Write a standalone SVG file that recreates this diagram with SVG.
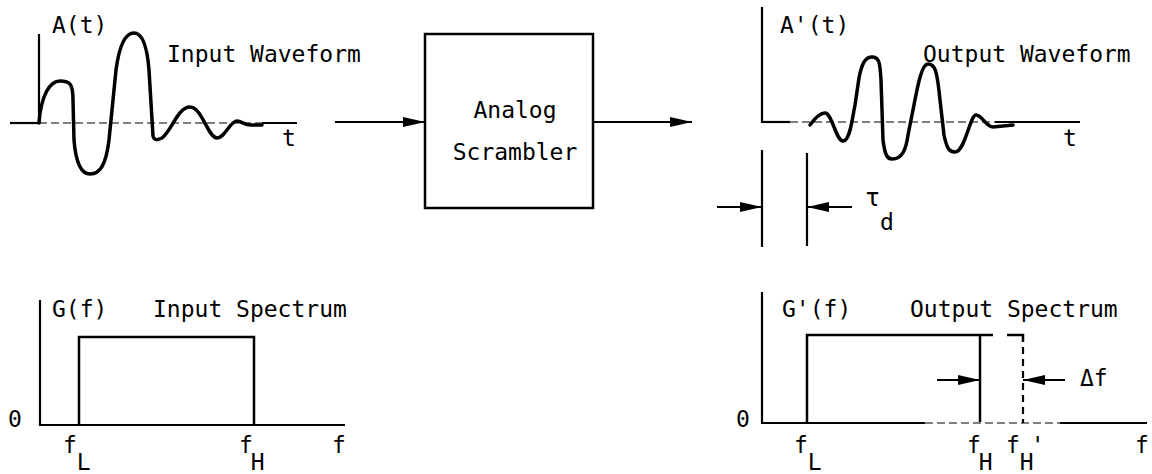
<svg xmlns="http://www.w3.org/2000/svg" width="1152" height="474" viewBox="0 0 1152 474">
<style>
text{font-family:"DejaVu Sans Mono","Liberation Mono",monospace;font-size:23px;fill:#000}
.ax{stroke:#000;stroke-width:2.2;fill:none}
.thin{stroke:#000;stroke-width:1.2;fill:none;stroke-dasharray:8 4}
.wave{stroke:#000;stroke-width:3.5;fill:none;stroke-linejoin:round;stroke-linecap:round}
.box{stroke:#000;stroke-width:2.5;fill:none}
.dash{stroke:#000;stroke-width:2.2;fill:none;stroke-dasharray:7 5}
.arr{stroke:#000;stroke-width:2;fill:none;marker-end:url(#ah)}
</style>
<defs>
<marker id="ah" markerWidth="22" markerHeight="12" refX="22" refY="6" orient="auto" markerUnits="userSpaceOnUse">
<path d="M0,1 L22,6 L0,11 Z" fill="#000"/>
</marker>
</defs>

<g id="input-waveform">
<line class="ax" x1="39" y1="34" x2="39" y2="124"/>
<line class="ax" x1="10" y1="123" x2="39" y2="123"/>
<line class="thin" x1="39" y1="123" x2="262" y2="123"/>
<line class="ax" x1="262" y1="123" x2="297" y2="123"/>
<path class="wave" d="M39,123 C41,95 50,81 60,81 C70,81 73,84 73,100 L74,140 C76,165 82,174 90,174 C100,174 106,165 109,140 L116,70 C120,40 127,33 134,33 C142,33 147,45 149,70 L153,136 C154,141 158,140 162,138 C172,130 178,107 190,107 C202,107 208,138 217,138 C225,138 230,121 237,121 C242,121 245,126 252,125 L262,125"/>
<text x="52" y="33">A(t)</text>
<text x="167" y="62">Input Waveform</text>
<text x="282" y="146">t</text>
</g>

<g id="scrambler">
<rect class="box" x="425" y="34" width="168" height="174"/>
<text x="515" y="118" text-anchor="middle">Analog</text>
<text x="515" y="160" text-anchor="middle">Scrambler</text>
</g>

<g id="connectors">
<line class="arr" x1="335" y1="122" x2="425" y2="122"/>
<line class="arr" x1="593" y1="122" x2="692" y2="122"/>
</g>

<g id="output-waveform">
<line class="ax" x1="762" y1="7" x2="762" y2="123"/>
<line class="ax" x1="762" y1="122" x2="790" y2="122"/>
<line class="thin" x1="790" y1="122" x2="995" y2="122"/>
<line class="ax" x1="995" y1="122" x2="1080" y2="122"/>
<path class="wave" d="M810,125 C815,118 820,113 825,113 C832,113 836,141 843,141 C850,141 852,120 855,105 L859,78 C862,62 866,57 872,57 C879,57 880,62 881,80 L883,140 C885,155 887,159 892,159 C902,159 906,150 908,135 L912,115 C917,90 921,64 928,64 C935,64 937,70 940,100 L944,135 C947,150 950,152 955,152 C965,152 970,115 976,115 C982,115 986,127 993,127 L1013,125"/>
<text x="780" y="33">A'(t)</text>
<text x="923" y="62">Output Waveform</text>
<text x="1063" y="146">t</text>
<line class="ax" x1="762" y1="150" x2="762" y2="247"/>
<line class="ax" x1="807" y1="153" x2="807" y2="246"/>
<line class="arr" x1="717" y1="207" x2="762" y2="207"/>
<line class="arr" x1="852" y1="207" x2="807" y2="207"/>
<text x="865" y="206" style="font-size:25px">τ<tspan dy="24" style="font-size:23px">d</tspan></text>
</g>

<g id="input-spectrum">
<line class="ax" x1="40" y1="300" x2="40" y2="426"/>
<line class="ax" x1="40" y1="425" x2="345" y2="425"/>
<polyline class="box" points="79,425 79,337 254,337 254,425"/>
<text x="52" y="317">G(f)</text>
<text x="153" y="317">Input Spectrum</text>
<text x="8" y="427">0</text>
<text x="63" y="453">f<tspan dy="17">L</tspan></text>
<text x="239" y="453">f<tspan dx="-2" dy="17">H</tspan></text>
<text x="332" y="453">f</text>
</g>

<g id="output-spectrum">
<line class="ax" x1="762" y1="292" x2="762" y2="424"/>
<line class="ax" x1="762" y1="423" x2="925" y2="423"/>
<line class="thin" x1="925" y1="423" x2="1060" y2="423"/>
<line class="ax" x1="1060" y1="423" x2="1147" y2="423"/>
<polyline class="box" points="807,423 807,335 993,335"/>
<line class="box" x1="980" y1="335" x2="980" y2="422"/>
<polyline class="box" points="1007,335 1023,335 1023,342"/>
<line class="dash" x1="1023" y1="347" x2="1023" y2="423"/>
<line class="arr" x1="937" y1="380" x2="980" y2="380"/>
<line class="arr" x1="1065" y1="380" x2="1023" y2="380"/>
<text x="1080" y="386">Δf</text>
<text x="782" y="317">G'(f)</text>
<text x="910" y="317">Output Spectrum</text>
<text x="736" y="427">0</text>
<text x="794" y="453">f<tspan dy="17">L</tspan></text>
<text x="967" y="453">f<tspan dx="-2" dy="17">H</tspan></text>
<text x="1006" y="453">f<tspan dy="17">H</tspan><tspan dx="-3" dy="-17">'</tspan></text>
<text x="1135" y="453">f</text>
</g>
</svg>
